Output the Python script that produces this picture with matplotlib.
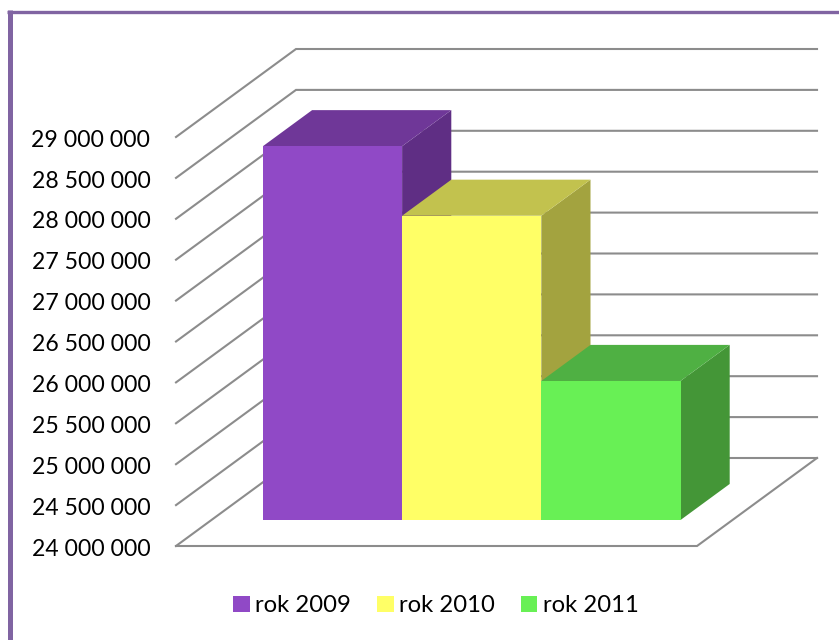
#!/usr/bin/env python3

import matplotlib

matplotlib.use("Agg")

import matplotlib.pyplot as plt
from matplotlib.lines import Line2D
from matplotlib.patches import Patch, Polygon
from matplotlib.transforms import ScaledTranslation

plt.rcParams["font.family"] = ["Lato", "DejaVu Sans"]

YEARS = ["rok 2009", "rok 2010", "rok 2011"]
VALUES = [28570000, 27720000, 25700000]
TICKS = [24000000, 24500000, 25000000, 25500000, 26000000,
         26500000, 27000000, 27500000, 28000000, 28500000, 29000000]
TICK_LABELS = ["24 000 000", "24 500 000", "25 000 000", "25 500 000", "26 000 000",
               "26 500 000", "27 000 000", "27 500 000", "28 000 000", "28 500 000", "29 000 000"]

FRONT_COLORS = ["#9049C6", "#FFFF66", "#68F055"]
TOP_COLORS = ["#6F3798", "#C2C24E", "#4FB043"]
SIDE_COLORS = ["#5F2E84", "#A3A33F", "#449637"]

GRID_COLOR = "#8C8C8C"
FRAME_COLOR = "#8064A2"

WIDTH, HEIGHT = 839, 640

# oblique projection: one unit of depth moves a point right and up
FLOOR_WIDTH = 3.743
DEPTH_X = 0.862
DEPTH_Y = 1075800
BAR_FRONT = 0.295
BAR_BACK = 0.705
BAR_GAP = 0.37


def project(x, value, depth):
    return (x + depth * DEPTH_X, value + depth * DEPTH_Y)


def draw_grid(ax):
    right = FLOOR_WIDTH
    for tick in TICKS:
        ax.plot(
            *zip(project(0, tick, 0), project(0, tick, 1), project(right, tick, 1)),
            color=GRID_COLOR,
            lw=1.5,
            clip_on=False,
            solid_joinstyle="miter",
            zorder=1,
        )
    ax.plot(
        *zip(project(0, TICKS[0], 0), project(right, TICKS[0], 0), project(right, TICKS[0], 1)),
        color=GRID_COLOR,
        lw=1.5,
        clip_on=False,
        solid_joinstyle="miter",
        zorder=1,
    )


def draw_bar(ax, idx, value):
    left = BAR_GAP + idx
    right = left + 1
    base = TICKS[0]
    front = [project(left, base, BAR_FRONT), project(right, base, BAR_FRONT),
             project(right, value, BAR_FRONT), project(left, value, BAR_FRONT)]
    top = [project(left, value, BAR_FRONT), project(right, value, BAR_FRONT),
           project(right, value, BAR_BACK), project(left, value, BAR_BACK)]
    side = [project(right, base, BAR_FRONT), project(right, base, BAR_BACK),
            project(right, value, BAR_BACK), project(right, value, BAR_FRONT)]
    zorder = 2 + idx
    ax.add_patch(Polygon(side, closed=True, fc=SIDE_COLORS[idx], ec="none", clip_on=False, zorder=zorder))
    ax.add_patch(Polygon(top, closed=True, fc=TOP_COLORS[idx], ec="none", clip_on=False, zorder=zorder))
    ax.add_patch(Polygon(front, closed=True, fc=FRONT_COLORS[idx], ec="none", clip_on=False, zorder=zorder))


def main():
    fig = plt.figure(figsize=(WIDTH / 100, HEIGHT / 100), dpi=100)
    ax = fig.add_axes([176 / WIDTH, (HEIGHT - 546) / HEIGHT, 641 / WIDTH, 409 / HEIGHT])
    ax.set_xlim(0, 641 / 139.2)
    ax.set_ylim(TICKS[0], TICKS[-1])
    ax.patch.set_visible(False)
    for spine in ax.spines.values():
        spine.set_visible(False)

    ax.set_xticks([])
    ax.set_yticks(TICKS)
    ax.set_yticklabels(TICK_LABELS, fontsize=16.6)
    ax.tick_params(axis="y", length=0, pad=18.5)
    # labels sit a little below the gridline ends
    nudge = ScaledTranslation(0, -0.8 / 72, fig.dpi_scale_trans)
    for label in ax.get_yticklabels():
        label.set_transform(label.get_transform() + nudge)

    draw_grid(ax)
    for idx, value in enumerate(VALUES):
        draw_bar(ax, idx, value)

    handles = [Patch(fc=color, ec="none", label=year) for color, year in zip(FRONT_COLORS, YEARS)]
    fig.legend(
        handles=handles,
        ncol=3,
        loc="center",
        bbox_to_anchor=(436 / WIDTH, (HEIGHT - 606) / HEIGHT),
        frameon=False,
        fontsize=17.2,
        handlelength=0.68,
        handleheight=0.68,
        handletextpad=0.22,
        columnspacing=1.11,
    )

    # chart frame, only the left and top edges are inside the picture
    fig.add_artist(Line2D([9.5 / WIDTH, 9.5 / WIDTH], [0, (HEIGHT - 10) / HEIGHT], color=FRAME_COLOR, lw=3.6, solid_capstyle="butt"))
    fig.add_artist(Line2D([7 / WIDTH, 1], [(HEIGHT - 11.5) / HEIGHT] * 2, color=FRAME_COLOR, lw=2.4, solid_capstyle="butt"))

    fig.savefig("out.png", dpi=100)
    plt.close(fig)


if __name__ == "__main__":
    main()
